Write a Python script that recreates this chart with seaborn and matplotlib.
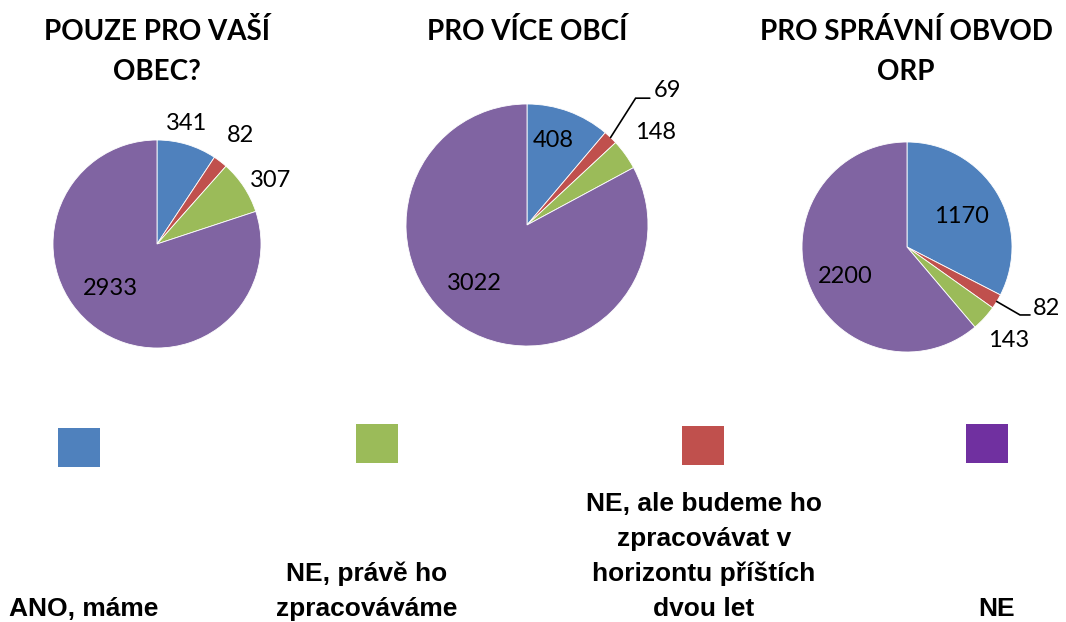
import numpy as np
import matplotlib
matplotlib.use("Agg")
import matplotlib.pyplot as plt
import seaborn as sns
from matplotlib.patches import Rectangle

# -----------------------------
# DATA
# -----------------------------

categories = [
    "ANO, máme",
    "NE, právě ho\nzpracováváme",
    "NE, ale budeme ho\nzpracovávat v\nhorizontu příštích\ndvou let",
    "NE",
]

titles = [
    ["POUZE PRO VAŠÍ", "OBEC?"],
    ["PRO VÍCE OBCÍ"],
    ["PRO SPRÁVNÍ OBVOD", "ORP"],
]

# values in legend order: ANO, NE-pravě, NE-budeme, NE
obec_values = [341, 307, 82, 2933]
vice_obci_values = [408, 148, 69, 3022]
orp_values = [1170, 143, 82, 2200]

legend_colors = ["#4F81BD", "#9BBB59", "#C0504D", "#7030A0"]
slice_colors = ["#4F81BD", "#9BBB59", "#C0504D", "#8064A2"]

# slices go clockwise from 12 o'clock: ANO, NE-budeme, NE-pravě, NE
slice_order = [0, 2, 1, 3]

# -----------------------------
# LAYOUT (pixels)
# -----------------------------

W, H = 1066, 622

pie_centers = [(157, 244), (527, 225), (907, 247)]
pie_radii = [104, 121, 105]
title_x = [157, 527, 906]
title_baselines = [40, 80]

# label placement per slice (pie order): distance in radii, angle shift in deg
label_dist = [
    [1.19, 1.32, 1.25, 0.62],
    [0.73, None, 1.31, 0.65],
    [0.60, None, 1.32, 0.65],
]
label_shift = [
    [3, 0, -4, -11],
    [3, 0, 0, -11.5],
    [-2, 0, 0, 5],
]
# leader lines: (pie, slice, elbow distance, elbow angle shift, tail length)
leaders = [(1, 1, 1.38, 3.1, 0.117), (2, 1, 1.256, 0.25, 0.095)]

legend_x = [79, 377, 703, 987]
legend_sw_y = [428, 424, 426, 424]
legend_text_x = [84, 367, 704, 997]
legend_last_baseline = 616
legend_line_step = 35

# -----------------------------
# STYLE
# -----------------------------

sns.set_theme(style="white")
plt.rcParams["font.family"] = ["Lato", "DejaVu Sans"]

fig = plt.figure(figsize=(W / 100, H / 100), dpi=100)
fig.patch.set_facecolor("white")

all_values = [obec_values, vice_obci_values, orp_values]

for p, values in enumerate(all_values):
    cx, cy = pie_centers[p]
    r = pie_radii[p]
    k = 1.9
    ax = fig.add_axes([(cx - k * r) / W, (H - cy - k * r) / H,
                       2 * k * r / W, 2 * k * r / H])

    vals = [values[i] for i in slice_order]
    cols = [slice_colors[i] for i in slice_order]
    wedges, _ = ax.pie(vals, colors=cols, startangle=90, counterclock=False,
                       radius=1, wedgeprops=dict(edgecolor="white", linewidth=0.6))
    ax.set_xlim(-k, k)
    ax.set_ylim(-k, k)
    ax.axis("off")
    ax.patch.set_visible(False)

    for s, w in enumerate(wedges):
        mid = np.deg2rad((w.theta1 + w.theta2) / 2)
        d = label_dist[p][s]
        if d is None:
            continue
        a = mid + np.deg2rad(label_shift[p][s])
        ax.text(d * np.cos(a), d * np.sin(a), str(vals[s]),
                ha="center", va="center", fontsize=17, color="black")

    for lp, ls, ed, eshift, tail in leaders:
        if lp != p:
            continue
        w = wedges[ls]
        mid = np.deg2rad((w.theta1 + w.theta2) / 2)
        x0, y0 = np.cos(mid), np.sin(mid)
        a = mid + np.deg2rad(eshift)
        x1, y1 = ed * np.cos(a), ed * np.sin(a)
        x2 = x1 + tail
        ax.plot([x0, x1, x2], [y0, y1, y1], color="black", lw=1.2,
                solid_joinstyle="miter")
        ax.text(x2 + 0.03, y1 + 0.06, str(vals[ls]), ha="left", va="center",
                fontsize=17, color="black")

    for li, line in enumerate(titles[p]):
        fig.text(title_x[p] / W, 1 - title_baselines[li] / H, line,
                 ha="center", va="baseline", fontsize=20, fontweight="bold",
                 color="black")

# -----------------------------
# LEGEND
# -----------------------------

lax = fig.add_axes([0, 0, 1, 1])
lax.set_xlim(0, W)
lax.set_ylim(H, 0)
lax.axis("off")
lax.patch.set_visible(False)

sw = 42
for i, cat in enumerate(categories):
    lax.add_patch(Rectangle((legend_x[i] - sw / 2, legend_sw_y[i]), sw, 39,
                            facecolor=legend_colors[i], edgecolor="none"))
    lines = cat.split("\n")
    n = len(lines)
    for j, line in enumerate(lines):
        y = legend_last_baseline - (n - 1 - j) * legend_line_step
        lax.text(legend_text_x[i], y, line, ha="center", va="baseline",
                 fontsize=19, fontweight="bold", family=["Liberation Sans", "DejaVu Sans"],
                 color="black")

fig.savefig("out.png", dpi=100, facecolor="white")
